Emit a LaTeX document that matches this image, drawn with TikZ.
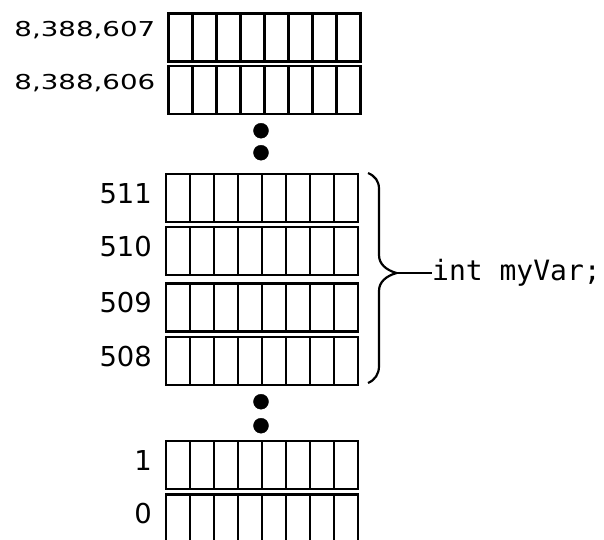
\documentclass[tikz,border=0pt]{standalone}
\usepackage{fontspec}
\setmainfont{DejaVu Sans}
\setmonofont{DejaVu Sans Mono}
\usepackage{tikz}
\usetikzlibrary{calc}

\begin{document}
\begin{tikzpicture}[x=1pt,y=-1pt,
		byte/.style={draw,line width=2.4pt,rectangle,inner sep=0pt,outer sep=0pt,
			minimum width=192pt,minimum height=48pt,anchor=north west},
		cell/.style={line width=2.4pt},
		addr/.style={inner sep=0pt,anchor=base east,font=\fontsize{27.4}{30}\selectfont},
		bigaddr/.style={inner sep=0pt,anchor=base east,font=\fontsize{20.5}{22}\selectfont},
		decl/.style={inner sep=0pt,anchor=base west,font=\ttfamily\fontsize{28}{32}\selectfont},
		brace/.style={line width=2.2pt,line join=round}]
		    \useasboundingbox (0,0) rectangle (604,539);
		    \clip (0,0) rectangle (604,539);
		    \foreach \row/\x/\y in {top7/168.5/13.3, top6/168.5/66, r511/166/173.7, r510/166/227,
				r509/166/283.3, r508/166/336.7, r1/166/441, r0/166/494.3}{
		        \node[byte] (\row) at (\x,\y) {}; % one byte
		        \foreach \k in {1,...,7}
		            \draw[cell] ($(\row.north west)!\k/8!(\row.north east)$)
						-- ($(\row.south west)!\k/8!(\row.south east)$); % bits
		    }
		    \node[bigaddr] (a7) at ($(top7.north west)+(-13,23.5)$) {\scalebox{1.35}[1]{8,388,607}};
		    \node[bigaddr] (a6) at ($(top6.north west)+(-13,23.5)$) {\scalebox{1.35}[1]{8,388,606}};
		    \node[addr] (a511) at ($(r511.north west)+(-14,29.5)$) {511};
		    \node[addr] (a510) at ($(r510.north west)+(-14,29.5)$) {510};
		    \node[addr] (a509) at ($(r509.north west)+(-14,29.5)$) {509};
		    \node[addr] (a508) at ($(r508.north west)+(-14,29.5)$) {508};
		    \node[addr] (a1) at ($(r1.north west)+(-14,29.5)$) {1};
		    \node[addr] (a0) at ($(r0.north west)+(-14,29.5)$) {0};
		    \coordinate (D1) at (261,130.7);
		    \coordinate (D2) at (261,152.7);
		    \coordinate (D3) at (261,401.7);
		    \coordinate (D4) at (261,425.7);
		    \filldraw[fill=black] (D1) circle[radius=7.5]; % skipped bytes
		    \filldraw[fill=black] (D2) circle[radius=7.5];
		    \filldraw[fill=black] (D3) circle[radius=7.5];
		    \filldraw[fill=black] (D4) circle[radius=7.5];
		    \coordinate (tip) at (396.5,273);
		    \draw[brace] (368,173) .. controls (375,176) and (379,181) .. (379,189)
				-- (379,255) .. controls (379,264) and (386,270) .. (tip)
				.. controls (386,276) and (379,282) .. (379,291)
				-- (379,366) .. controls (379,374) and (375,380) .. (368,383); % four bytes
		    \node[decl] (myvar) at (432,280) {int myVar;};
		    \draw[brace] (tip) -- (tip -| myvar.west); % variable
	    \end{tikzpicture}
\end{document}
